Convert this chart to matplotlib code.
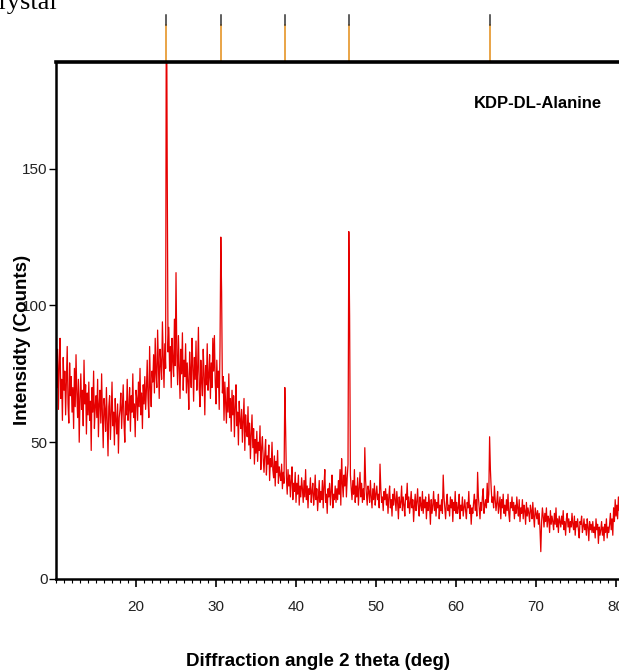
import numpy as np
import matplotlib
matplotlib.use("Agg")
import matplotlib.pyplot as plt
import matplotlib.transforms as mtransforms
from matplotlib.ticker import MultipleLocator

# %% scan data (step 0.1 deg, one row per degree, from 10.1 deg)
scan_start = 10.1
scan_step = 0.1
counts = [
    70, 84, 62, 78, 88, 66, 73, 58, 81, 69,    # 10
    76, 60, 72, 85, 64, 57, 79, 67, 74, 61,    # 11
    70, 55, 77, 63, 82, 68, 59, 73, 50, 66,    # 12
    75, 62, 69, 56, 80, 64, 71, 53, 68, 60,    # 13
    72, 58, 65, 47, 70, 61, 76, 55, 63, 67,    # 14
    59, 73, 52, 64, 69, 57, 75, 60, 48, 66,    # 15
    62, 54, 70, 58, 45, 63, 67, 51, 60, 72,    # 16
    56, 61, 49, 66, 58, 53, 64, 46, 59, 62,    # 17
    68, 55, 63, 71, 57, 50, 65, 60, 73, 58,    # 18
    62, 70, 54, 67, 61, 75, 59, 64, 52, 69,    # 19
    66, 58, 72, 63, 77, 60, 68, 55, 71, 64,    # 20
    74, 62, 69, 80, 66, 59, 85, 70, 63, 76,    # 21
    72, 82, 68, 88, 75, 70, 91, 78, 66, 84,    # 22
    79, 73, 94, 81, 70, 86, 77, 235, 150, 83,  # 23
    92, 76, 85, 70, 88, 80, 74, 95, 78, 112,   # 24
    82, 71, 89, 77, 66, 84, 75, 90, 69, 80,    # 25
    74, 86, 68, 79, 72, 62, 83, 76, 70, 88,    # 26
    78, 65, 81, 73, 87, 69, 76, 92, 70, 63,    # 27
    80, 72, 67, 84, 75, 60, 78, 71, 86, 69,    # 28
    74, 82, 66, 79, 70, 88, 76, 89, 72, 64,    # 29
    80, 70, 76, 62, 85, 125, 105, 68, 74, 58,  # 30
    72, 64, 57, 70, 61, 75, 59, 66, 54, 69,    # 31
    60, 67, 52, 63, 71, 56, 61, 49, 65, 58,    # 32
    55, 62, 50, 58, 66, 47, 60, 54, 52, 63,    # 33
    49, 57, 44, 53, 60, 48, 55, 42, 51, 46,    # 34
    54, 43, 50, 47, 56, 40, 48, 52, 44, 39,    # 35
    46, 51, 38, 45, 42, 49, 36, 44, 41, 50,    # 36
    40, 37, 45, 34, 43, 39, 47, 35, 41, 38,    # 37
    36, 42, 33, 39, 35, 70, 55, 37, 31, 40,    # 38
    34, 38, 30, 36, 41, 29, 35, 32, 39, 28,    # 39
    35, 31, 38, 27, 34, 30, 37, 33, 28, 36,    # 40
    30, 40, 29, 34, 26, 33, 31, 37, 28, 32,    # 41
    35, 27, 31, 38, 29, 33, 25, 30, 36, 28,    # 42
    32, 29, 36, 26, 34, 40, 28, 31, 24, 33,    # 43
    30, 35, 27, 32, 38, 26, 31, 29, 34, 28,    # 44
    33, 29, 36, 31, 40, 27, 44, 35, 30, 38,    # 45
    34, 41, 30, 37, 42, 127, 96, 38, 33, 29,   # 46
    36, 31, 40, 28, 34, 30, 37, 27, 33, 39,    # 47
    30, 35, 28, 33, 29, 48, 36, 31, 27, 34,    # 48
    32, 28, 36, 30, 26, 33, 29, 35, 27, 31,    # 49
    34, 29, 31, 26, 42, 33, 28, 30, 25, 32,    # 50
    29, 33, 27, 31, 24, 30, 34, 26, 29, 23,    # 51
    31, 27, 33, 29, 25, 32, 28, 22, 30, 26,    # 52
    28, 34, 25, 30, 27, 23, 31, 29, 35, 26,    # 53
    30, 24, 28, 32, 26, 29, 21, 27, 31, 25,    # 54
    28, 33, 26, 23, 30, 27, 25, 32, 24, 29,    # 55
    26, 30, 22, 28, 25, 31, 27, 20, 29, 24,    # 56
    27, 32, 25, 29, 23, 28, 26, 31, 22, 27,    # 57
    25, 29, 24, 38, 30, 26, 22, 28, 31, 25,    # 58
    27, 23, 30, 26, 29, 21, 28, 25, 32, 24,    # 59
    28, 24, 26, 31, 22, 27, 25, 30, 23, 26,    # 60
    29, 25, 22, 28, 26, 32, 24, 27, 20, 26,    # 61
    24, 28, 31, 25, 29, 23, 39, 30, 26, 22,    # 62
    28, 25, 30, 33, 24, 27, 29, 26, 35, 28,    # 63
    31, 52, 40, 33, 28, 30, 26, 34, 29, 25,    # 64
    28, 32, 24, 27, 30, 22, 29, 26, 31, 24,    # 65
    27, 23, 29, 25, 31, 24, 21, 28, 26, 30,    # 66
    25, 28, 22, 27, 24, 30, 26, 23, 29, 21,    # 67
    26, 24, 29, 22, 27, 25, 20, 28, 23, 26,    # 68
    24, 21, 27, 25, 22, 28, 23, 19, 26, 24,    # 69
    22, 25, 20, 24, 18, 10, 21, 26, 23, 19,    # 70
    24, 21, 26, 19, 23, 22, 17, 25, 20, 23,    # 71
    21, 18, 24, 20, 26, 19, 22, 17, 23, 21,    # 72
    19, 23, 20, 25, 18, 21, 16, 22, 24, 19,    # 73
    22, 17, 21, 19, 24, 20, 18, 23, 16, 21,    # 74
    19, 22, 18, 15, 21, 20, 23, 17, 19, 22,    # 75
    18, 20, 16, 22, 19, 14, 21, 18, 20, 17,    # 76
    21, 17, 19, 15, 22, 18, 20, 13, 19, 16,    # 77
    18, 21, 16, 19, 14, 20, 17, 22, 15, 19,    # 78
    17, 20, 24, 18, 22, 16, 26, 21, 29, 23,    # 79
    27, 22, 30, 25, 28,                        # 80
]
two_theta = scan_start + scan_step * np.arange(len(counts))

# reference reflection markers drawn above the frame
marker_pos = [23.8, 30.65, 38.65, 46.65, 64.2]

x_ticks = [20, 30, 40, 50, 60, 70, 80]
y_ticks = [0, 50, 100, 150]
sample_name = "KDP-DL-Alanine"

sans = ["Liberation Sans", "DejaVu Sans"]

# %% figure
fig = plt.figure(figsize=(6.19, 6.72), dpi=100)
ax = fig.add_axes([0.0905, 0.1384, 0.9305, 0.7693])

ax.plot(two_theta, counts, color="#e60000", lw=0.9)

ax.set_xlim(10, 82)
ax.set_ylim(0, 189)

ax.set_xticks(x_ticks)
ax.set_yticks(y_ticks)
ax.xaxis.set_minor_locator(MultipleLocator(1))
ax.tick_params(axis="x", which="major", direction="out", length=6, width=1.2, pad=9,
               labelsize=11)
ax.tick_params(axis="x", which="minor", direction="out", length=3, width=0.8)
ax.tick_params(axis="y", which="major", direction="out", length=5, width=1.0, pad=1,
               labelsize=11)
for lab in ax.get_xticklabels() + ax.get_yticklabels():
    lab.set_family(sans)
    lab.set_color("#222222")

for side in ["left", "bottom", "right"]:
    ax.spines[side].set_linewidth(1.8)
ax.spines["top"].set_linewidth(2.6)

# markers above the frame
trans = mtransforms.blended_transform_factory(ax.transData, ax.transAxes)
for p in marker_pos:
    ax.plot([p, p], [1.0, 1.072], color="#e9a446", lw=1.4, transform=trans, clip_on=False)
    ax.plot([p, p], [1.072, 1.091], color="#333333", lw=1.1, transform=trans, clip_on=False)

ax.text(70.2, 174, sample_name, fontsize=12, fontweight="bold",
        family=sans, ha="center", va="center")

fig.text(0.036, 0.494, "Intensidty (Counts)", rotation=90, fontsize=13.5,
         fontweight="bold", family=sans, ha="center", va="center")
fig.text(0.514, 0.015, "Diffraction angle 2 theta (deg)", fontsize=13.5,
         fontweight="bold", family=sans, ha="center", va="center")

# caption fragment cut off at the top of the page
fig.text(-0.003, 0.986, "rystal", fontsize=19, family=["Liberation Serif", "DejaVu Serif"],
         ha="left", va="baseline")

fig.savefig("out.png", dpi=100)
